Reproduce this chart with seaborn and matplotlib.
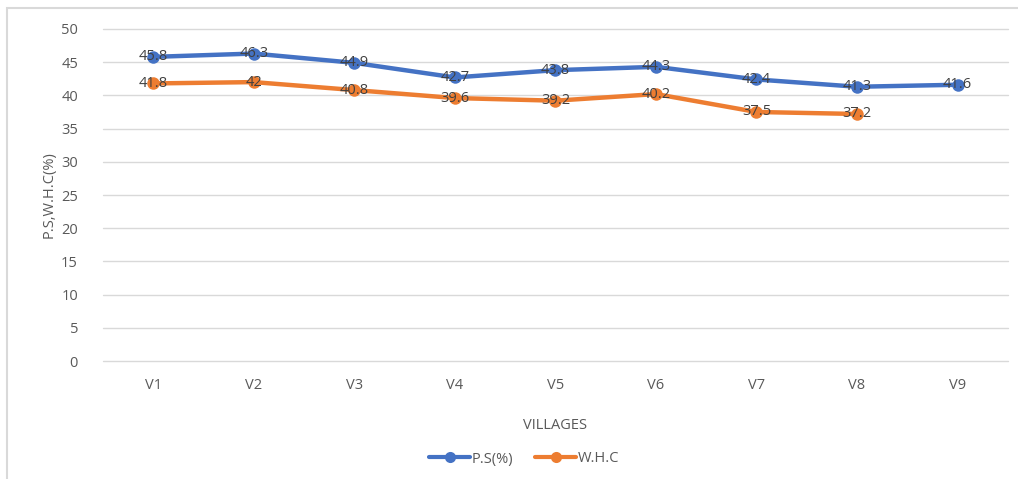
import numpy as np
import pandas as pd
import matplotlib
matplotlib.use("Agg")
import matplotlib.pyplot as plt
import seaborn as sns
from matplotlib.patches import Rectangle

# Data
villages = ["V1", "V2", "V3", "V4", "V5", "V6", "V7", "V8", "V9"]
ps_values = [45.8, 46.3, 44.9, 42.7, 43.8, 44.3, 42.4, 41.3, 41.6]
whc_values = [41.8, 42.0, 40.8, 39.6, 39.2, 40.2, 37.5, 37.2, np.nan]
series_names = ["P.S(%)", "W.H.C"]

BLUE = "#4472C4"
ORANGE = "#ED7D31"
TEXT = "#595959"
LABEL = "#404040"

df = pd.DataFrame({
    "Village": villages * 2,
    "Value": ps_values + whc_values,
    "Series": [series_names[0]] * len(villages) + [series_names[1]] * len(villages),
})
df["pos"] = df["Village"].map({v: i for i, v in enumerate(villages)})

sns.set_theme(style="white")
plt.rcParams["font.family"] = ["Open Sans", "DejaVu Sans"]

fig = plt.figure(figsize=(10.18, 4.79), dpi=100)
ax = fig.add_axes([0.1012, 0.2463, 0.8888, 0.6932])

# outer chart frame
fig.patches.append(Rectangle((7 / 1018, -0.01), 1.02, 1 - 8 / 479 + 0.01,
                             transform=fig.transFigure, fill=False,
                             edgecolor="#d9d9d9", linewidth=1.5))

sns.lineplot(data=df.dropna(), x="pos", y="Value", hue="Series",
             palette=[BLUE, ORANGE], marker="o", markersize=9,
             markeredgewidth=0, linewidth=3.2, ax=ax, legend=False)

# data labels
for vals in (ps_values, whc_values):
    for i, v in enumerate(vals):
        if np.isnan(v):
            continue
        ax.text(i, v, f"{v:g}", ha="center", va="center",
                fontsize=10.5, color=LABEL)

ax.set_xlim(-0.5, len(villages) - 0.5)
ax.set_ylim(0, 50)
ax.set_yticks(range(0, 51, 5))
ax.set_xticks(range(len(villages)))
ax.set_xticklabels(villages)
ax.yaxis.grid(True, color="#d9d9d9", linewidth=1)
ax.xaxis.grid(False)
ax.set_axisbelow(True)
for gl in ax.get_ygridlines():
    gl.set_clip_on(False)
for s in ax.spines.values():
    s.set_visible(False)
ax.tick_params(axis="both", length=0, labelsize=10.5, colors=TEXT)
ax.tick_params(axis="y", pad=18)
ax.tick_params(axis="x", pad=12)

ax.set_xlabel("VILLAGES", fontsize=10.5, color=TEXT, labelpad=18)
ax.set_ylabel("P.S,W.H.C(%)", fontsize=10.5, color=TEXT, labelpad=3)

handles = [
    plt.Line2D([], [], color=BLUE, marker="o", markersize=8, linewidth=3, markeredgewidth=0),
    plt.Line2D([], [], color=ORANGE, marker="o", markersize=8, linewidth=3, markeredgewidth=0),
]
fig.legend(handles, series_names, loc="center", bbox_to_anchor=(0.515, 1 - 459 / 479),
           ncol=2, frameon=False, fontsize=10.5, labelcolor=TEXT,
           handlelength=2.8, handletextpad=0.1, columnspacing=1.5)

fig.savefig("out.png", dpi=100, facecolor="white")
